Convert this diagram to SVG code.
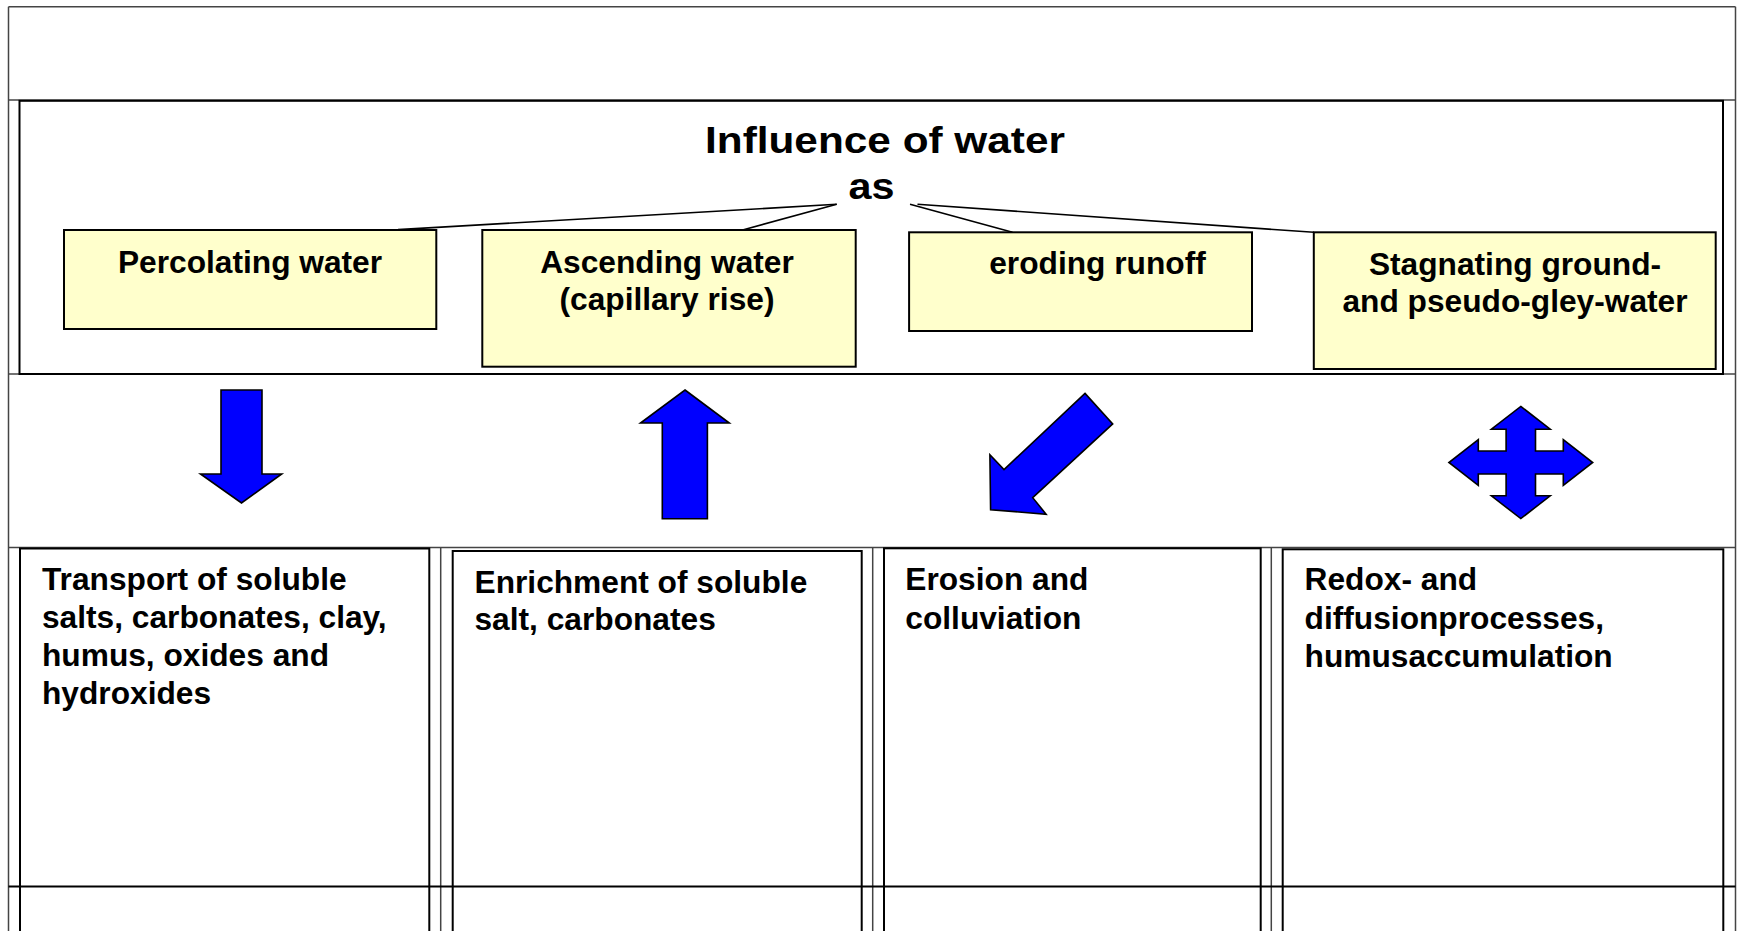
<svg xmlns="http://www.w3.org/2000/svg" width="1737" height="931" viewBox="0 0 1737 931">
  <style>
    .grid { stroke: #444444; stroke-width: 1.5; fill: none; }
    .rule { stroke: #000000; stroke-width: 2; fill: none; }
    .cell { fill: #ffffff; stroke: #000000; stroke-width: 2; }
    .note { fill: #ffffcc; stroke: #000000; stroke-width: 2; }
    .link { stroke: #000000; stroke-width: 1.6; fill: none; }
    .flow { fill: #0000ff; stroke: #000000; stroke-width: 1.6; stroke-linejoin: miter; }
    text { font-family: "Liberation Sans", Arial, "Helvetica", sans-serif; font-weight: bold; fill: #000000; }
    .t-title { font-size: 37.5px; text-anchor: middle; }
    .t-box { font-size: 31.7px; text-anchor: middle; }
    .t-body { font-size: 31.7px; }
  </style>

  <rect x="0" y="0" width="1737" height="931" fill="#ffffff"/>

  <!-- table grid behind everything -->
  <g id="table-grid">
    <line class="grid" x1="8.5" y1="6.7" x2="1735.5" y2="6.7"/>
    <line class="grid" x1="8.5" y1="6.7" x2="8.5" y2="931"/>
    <line class="grid" x1="1735.5" y1="6.7" x2="1735.5" y2="931"/>
    <line class="grid" x1="8.5" y1="100" x2="1735.5" y2="100"/>
    <line class="grid" x1="8.5" y1="374" x2="1735.5" y2="374"/>
    <line class="grid" x1="8.5" y1="547.5" x2="1735.5" y2="547.5"/>
    <line class="grid" x1="440.7" y1="547.5" x2="440.7" y2="931"/>
    <line class="grid" x1="872.7" y1="547.5" x2="872.7" y2="931"/>
    <line class="grid" x1="1271.3" y1="547.5" x2="1271.3" y2="931"/>
  </g>

  <!-- header panel -->
  <g id="header-panel">
    <rect class="cell" x="19.5" y="100.8" width="1703.5" height="273.2"/>
  </g>

  <g id="title">
    <text class="t-title" x="885" y="153" textLength="360" lengthAdjust="spacingAndGlyphs">Influence of water</text>
    <text class="t-title" x="871.5" y="199" textLength="46" lengthAdjust="spacingAndGlyphs">as</text>
  </g>

  <!-- branches from "as" to the four water types -->
  <g id="connectors">
    <line class="link" x1="836.7" y1="204.3" x2="398" y2="229.6"/>
    <line class="link" x1="836.7" y1="204.3" x2="742.6" y2="230"/>
    <line class="link" x1="910" y1="204.3" x2="1012.5" y2="232.3"/>
    <line class="link" x1="917.5" y1="204.3" x2="1313.8" y2="232.3"/>
  </g>

  <g id="percolating-water">
    <rect class="note" x="64" y="230" width="372.3" height="99"/>
    <text class="t-box" x="250" y="273.3">Percolating water</text>
  </g>

  <g id="ascending-water">
    <rect class="note" x="482.3" y="230" width="373.4" height="136.7"/>
    <text class="t-box" x="667" y="272.5">Ascending water</text>
    <text class="t-box" x="667" y="309.5">(capillary rise)</text>
  </g>

  <g id="eroding-runoff">
    <rect class="note" x="909.1" y="232.3" width="342.9" height="98.7"/>
    <text class="t-box" x="1097.5" y="274">eroding runoff</text>
  </g>

  <g id="stagnating-water">
    <rect class="note" x="1313.8" y="232.3" width="401.9" height="136.7"/>
    <text class="t-box" x="1515" y="275">Stagnating ground-</text>
    <text class="t-box" x="1515" y="312">and pseudo-gley-water</text>
  </g>

  <!-- block arrows showing direction of water movement -->
  <g id="flow-arrows">
    <polygon id="arrow-down" class="flow" points="221,390 262,390 262,474 281.7,474 241.5,503 200.5,474 221,474"/>
    <polygon id="arrow-up" class="flow" points="685,390 729.3,423 707.4,423 707.4,518.8 662.3,518.8 662.3,423 640.5,423"/>
    <polygon id="arrow-diagonal" class="flow" points="1085,393.4 1112.7,423.9 1032.7,497.7 1046.1,514.2 990.6,509.7 989.9,454.8 1004,469.6"/>
    <polygon id="arrow-cross" class="flow" points="1520.8,406.4 1550.2,429.2 1535.5,429.2 1535.5,451 1563.3,451 1563.3,439.7 1592.7,462.5 1563.3,485.3 1563.3,474 1535.5,474 1535.5,495.8 1550.2,495.8 1520.8,518.6 1491.4,495.8 1506.1,495.8 1506.1,474 1478.3,474 1478.3,485.3 1448.9,462.5 1478.3,439.7 1478.3,451 1506.1,451 1506.1,429.2 1491.4,429.2"/>
  </g>

  <!-- process columns -->
  <g id="transport">
    <rect class="cell" x="20" y="548.5" width="409.3" height="400"/>
    <text class="t-body" x="42" y="590">Transport of soluble</text>
    <text class="t-body" x="42" y="628.3">salts, carbonates, clay,</text>
    <text class="t-body" x="42" y="666.4">humus, oxides and</text>
    <text class="t-body" x="42" y="704.3">hydroxides</text>
  </g>

  <g id="enrichment">
    <rect class="cell" x="452.7" y="551" width="409" height="400"/>
    <text class="t-body" x="474.5" y="592.7">Enrichment of soluble</text>
    <text class="t-body" x="474.5" y="630.3">salt, carbonates</text>
  </g>

  <g id="erosion">
    <rect class="cell" x="884" y="548.3" width="376.7" height="400"/>
    <text class="t-body" x="905.3" y="590">Erosion and</text>
    <text class="t-body" x="905.3" y="628.8">colluviation</text>
  </g>

  <g id="redox">
    <rect class="cell" x="1282.7" y="549.3" width="440.6" height="400"/>
    <text class="t-body" x="1304.6" y="590">Redox- and</text>
    <text class="t-body" x="1304.6" y="628.8">diffusionprocesses,</text>
    <text class="t-body" x="1304.6" y="666.5">humusaccumulation</text>
  </g>

  <!-- lower row divider, drawn over the columns -->
  <g id="row-divider">
    <line class="rule" x1="8.5" y1="886.5" x2="1735.5" y2="886.5"/>
  </g>
</svg>
